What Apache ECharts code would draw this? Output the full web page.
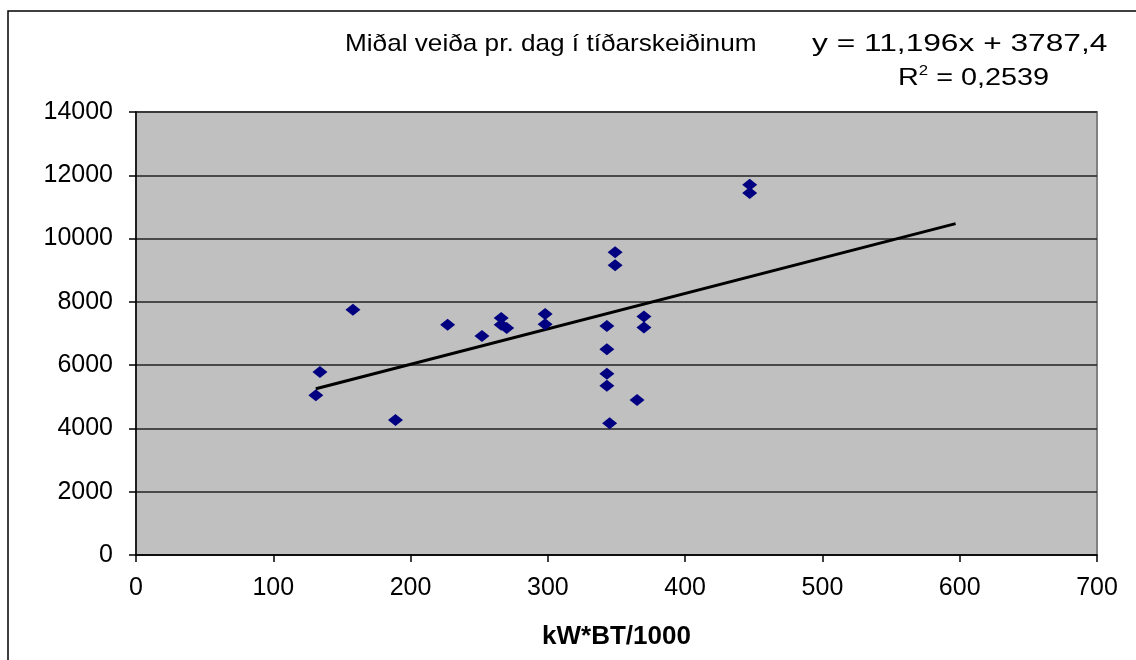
<!DOCTYPE html>
<html>
<head>
<meta charset="utf-8">
<script src="https://cdn.jsdelivr.net/npm/echarts@6/dist/echarts.min.js"></script>
<style>
  html, body { margin: 0; padding: 0; background: #fff; }
  #chart { width: 1136px; height: 660px; }
</style>
</head>
<body>
<div id="chart"></div>
<script>
// kW*BT/1000 gildi (x) og miðal veiða pr. dag (y)
const kwbt = [131, 134, 158, 189, 227, 252, 266, 266, 270, 298, 298, 343, 343, 343, 343, 345, 349, 349, 365, 370, 370, 447, 447]
const veida = [5050, 5780, 7750, 4270, 7280, 6920, 7490, 7280, 7170, 7620, 7290, 7240, 6500, 5730, 5350, 4160, 9570, 9160, 4900, 7540, 7190, 11700, 11440]

// leitnilína: y = 11,196x + 3787,4
const slope = 11.196
const intercept = 3787.4
const trendRange = [131, 597]

const xTicks = [0, 100, 200, 300, 400, 500, 600, 700]
const yTicks = [0, 2000, 4000, 6000, 8000, 10000, 12000, 14000]

const points = kwbt.map((x, i) => [x, veida[i]])
const trend = trendRange.map(x => [x, slope * x + intercept])

const font = '"Liberation Sans", Arial, sans-serif'
const chart = echarts.init(document.getElementById('chart'))

chart.setOption({
  animation: false,
  backgroundColor: '#fff',
  grid: {
    left: 136, right: 39, top: 112, bottom: 105,
    show: true,
    backgroundColor: '#c0c0c0',
    borderColor: '#808080',
    borderWidth: 2
  },
  xAxis: {
    type: 'value',
    min: xTicks[0],
    max: xTicks[xTicks.length - 1],
    interval: 100,
    name: 'kW*BT/1000',
    nameLocation: 'middle',
    nameGap: 69,
    nameTextStyle: { fontFamily: font, fontSize: 26, fontWeight: 'bold', color: '#000' },
    axisLine: { lineStyle: { color: '#000', width: 1.5 } },
    axisTick: { show: true, length: 7, lineStyle: { color: '#000', width: 1.5 } },
    axisLabel: { fontFamily: font, fontSize: 25, color: '#000', margin: 21 },
    splitLine: { show: false }
  },
  yAxis: {
    type: 'value',
    min: yTicks[0],
    max: yTicks[yTicks.length - 1],
    interval: 2000,
    axisLine: { show: true, lineStyle: { color: '#000', width: 1.5 } },
    axisTick: { show: true, length: 7, lineStyle: { color: '#000', width: 1.5 } },
    axisLabel: { fontFamily: font, fontSize: 25, color: '#000', margin: 23, formatter: v => String(v) },
    splitLine: { show: true, lineStyle: { color: '#222', width: 1.5 } }
  },
  series: [
    {
      type: 'line',
      data: trend,
      showSymbol: false,
      lineStyle: { color: '#000', width: 3 },
      z: 2
    },
    {
      type: 'scatter',
      data: points,
      symbol: 'diamond',
      symbolSize: [15, 12],
      itemStyle: { color: '#000080', opacity: 1 },
      z: 3
    }
  ],
  graphic: [
    {
      type: 'rect',
      shape: { x: 8, y: 11, width: 1140, height: 670 },
      style: { fill: null, stroke: '#000', lineWidth: 1.5 },
      silent: true
    },
    {
      type: 'text',
      x: 345, y: 32, scaleX: 1.09,
      style: { text: 'Miðal veiða pr. dag í tíðarskeiðinum', font: '24px ' + font, fill: '#000' }
    },
    {
      type: 'text',
      x: 812, y: 32, scaleX: 1.32,
      style: { text: 'y = 11,196x + 3787,4', font: '24px ' + font, fill: '#000' }
    },
    {
      type: 'text',
      x: 898, y: 64, scaleX: 1.2,
      style: {
        text: '{r|R}{s|2}{r| = 0,2539}',
        rich: {
          r: { fontFamily: font, fontSize: 24, fill: '#000', verticalAlign: 'bottom' },
          s: { fontFamily: font, fontSize: 14, fill: '#000', verticalAlign: 'top', padding: [0, 0, 12, 0] }
        }
      }
    }
  ]
})
</script>
</body>
</html>
